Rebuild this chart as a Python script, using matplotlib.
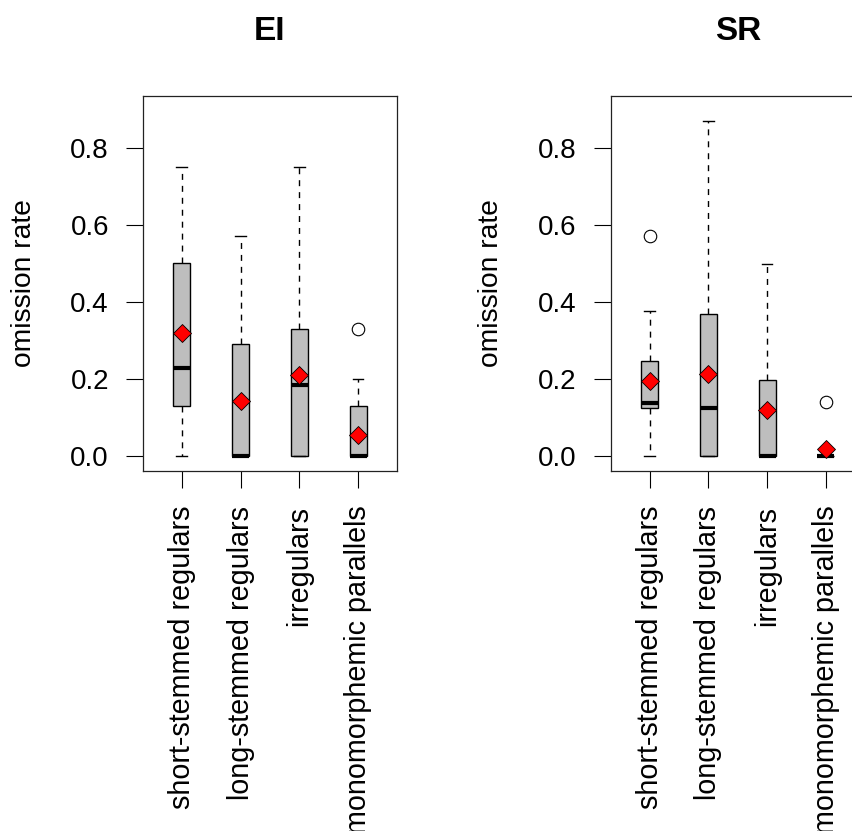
import matplotlib
matplotlib.use('Agg')
import matplotlib.pyplot as plt

plt.rcParams['font.family'] = ['Liberation Sans', 'DejaVu Sans']

categories = ['short-stemmed regulars', 'long-stemmed regulars', 'irregulars', 'monomorphemic parallels']

# EI panel
ei_whislo = [0.0, 0.0, 0.0, 0.0]
ei_q1 = [0.13, 0.0, 0.0, 0.0]
ei_med = [0.23, 0.0, 0.185, 0.0]
ei_q3 = [0.50, 0.29, 0.33, 0.13]
ei_whishi = [0.75, 0.57, 0.75, 0.20]
ei_mean = [0.32, 0.143, 0.21, 0.055]
ei_fliers = [[], [], [], [0.33]]

# SR panel
sr_whislo = [0.0, 0.0, 0.0, 0.0]
sr_q1 = [0.125, 0.0, 0.0, 0.0]
sr_med = [0.137, 0.126, 0.0, 0.0]
sr_q3 = [0.246, 0.37, 0.197, 0.0]
sr_whishi = [0.377, 0.868, 0.498, 0.0]
sr_mean = [0.194, 0.213, 0.12, 0.018]
sr_fliers = [[0.57], [], [], [0.14]]

yticks = [0.0, 0.2, 0.4, 0.6, 0.8]


def make_stats(whislo, q1, med, q3, whishi, mean, fliers):
    return [dict(whislo=a, q1=b, med=c, q3=d, whishi=e, mean=m, fliers=f)
            for a, b, c, d, e, m, f in zip(whislo, q1, med, q3, whishi, mean, fliers)]


def draw_panel(ax, stats, title):
    pos = list(range(1, len(stats) + 1))
    ax.bxp(stats, positions=pos, widths=0.29, capwidths=0.18, showmeans=True,
           patch_artist=True,
           boxprops=dict(facecolor='#bebebe', edgecolor='black', linewidth=1.0),
           medianprops=dict(color='black', linewidth=3.0, solid_capstyle='butt'),
           whiskerprops=dict(color='black', linewidth=1.0, linestyle=(0, (4.3, 4.3))),
           capprops=dict(color='black', linewidth=1.0),
           flierprops=dict(marker='o', markerfacecolor='white', markeredgecolor='black',
                           markersize=9, markeredgewidth=0.8),
           meanprops=dict(marker='D', markerfacecolor='red', markeredgecolor='black',
                          markersize=9, markeredgewidth=0.6))
    ax.set_xlim(0.34, 4.66)
    ax.set_ylim(-0.038, 0.934)
    ax.set_yticks(yticks)
    ax.set_yticklabels(['%.1f' % t for t in yticks])
    ax.set_xticks(pos)
    ax.set_xticklabels(categories, rotation=90, fontsize=20.7)
    ax.tick_params(axis='y', labelsize=20, length=12, width=0.8, pad=12.5)
    ax.tick_params(axis='x', length=12, width=0.8, pad=13)
    for s in ax.spines.values():
        s.set_linewidth(0.9)
        s.set_color('#222222')
    ax.set_ylabel('omission rate', fontsize=20.3, va='center')
    ax.yaxis.set_label_coords(-0.47, 0.5)
    ax.set_title(title, fontsize=24, fontweight='bold', pad=40)


fig = plt.figure(figsize=(8.52, 8.31), dpi=100)
ax1 = fig.add_axes([0.1678, 0.4332, 0.2981, 0.4513])
ax2 = fig.add_axes([0.7168, 0.4332, 0.2981, 0.4513])

draw_panel(ax1, make_stats(ei_whislo, ei_q1, ei_med, ei_q3, ei_whishi, ei_mean, ei_fliers), 'EI')
draw_panel(ax2, make_stats(sr_whislo, sr_q1, sr_med, sr_q3, sr_whishi, sr_mean, sr_fliers), 'SR')

fig.savefig('out.png', dpi=100)
